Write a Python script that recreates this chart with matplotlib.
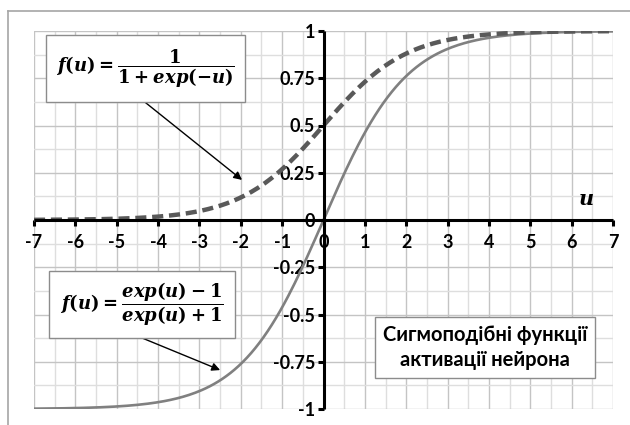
import matplotlib
matplotlib.use("Agg")
import matplotlib.pyplot as plt
import numpy as np
from matplotlib.patches import Rectangle
from matplotlib.lines import Line2D
from matplotlib.ticker import FuncFormatter

# argument grid and the two activation functions named in the boxes
u = np.arange(-7.0, 7.0001, 0.05)
logistic = 1.0 / (1.0 + np.exp(-u))
tanh_half = (np.exp(u) - 1.0) / (np.exp(u) + 1.0)

x_ticks = list(range(-7, 8))
y_ticks = [-1, -0.75, -0.5, -0.25, 0, 0.25, 0.5, 0.75, 1]

label_logistic = r"$f(u) = \dfrac{1}{1 + exp(-u)}$"
label_tanh = r"$f(u) = \dfrac{exp(u) - 1}{exp(u) + 1}$"
title_text = "Сигмоподібні функції\nактивації нейрона"

plt.rcParams["mathtext.fontset"] = "custom"
plt.rcParams["mathtext.rm"] = "DejaVu Serif:bold"
plt.rcParams["mathtext.bf"] = "DejaVu Serif:bold"
plt.rcParams["mathtext.it"] = "DejaVu Serif:italic:bold"

W, H = 630, 425
fig = plt.figure(figsize=(W / 100, H / 100), dpi=100)


def fx(px):
    return px / W


def fy(py):
    return 1 - py / H


# plot area in pixels
x0, x1, y0, y1 = 34, 613, 31, 409
ax = fig.add_axes([fx(x0), fy(y1), fx(x1) - fx(x0), fy(y0) - fy(y1)])
ax.set_xlim(-7, 7)
ax.set_ylim(-1, 1)

# chart area frame
fig.add_artist(Line2D([fx(8), fx(8)], [fy(10.5), 0], color="#a6a6a6", lw=1.2))
fig.add_artist(Line2D([fx(8), 1], [fy(10.5), fy(10.5)], color="#a6a6a6", lw=1.2))

# grid
for v in np.arange(-7, 7.01, 0.5):
    major = abs(v - round(v)) < 1e-9
    ax.axvline(v, color="#c4c4c4" if major else "#dedede", lw=1.0, zorder=0)
for v in np.arange(-1, 1.001, 0.125):
    major = abs(v / 0.25 - round(v / 0.25)) < 1e-9
    ax.axhline(v, color="#c4c4c4" if major else "#dedede", lw=1.0, zorder=0)

ax.plot(u, tanh_half, color="#808080", lw=1.9, zorder=3, solid_capstyle="butt")
ax.plot(u, logistic, color="#595959", lw=3.2, dashes=(2.5, 1.3), zorder=3)

for s in ["top", "right"]:
    ax.spines[s].set_visible(False)
ax.spines["left"].set_position(("data", 0))
ax.spines["bottom"].set_position(("data", 0))
for s in ["left", "bottom"]:
    ax.spines[s].set_linewidth(2.2)
    ax.spines[s].set_zorder(4)
    ax.spines[s].set_capstyle("butt")

ax.set_xticks(x_ticks)
ax.set_yticks(y_ticks)
fmt = FuncFormatter(lambda v, p: ("%g" % v))
ax.xaxis.set_major_formatter(fmt)
ax.yaxis.set_major_formatter(fmt)
ax.tick_params(axis="both", direction="out", length=4, width=2.2, color="black",
               labelsize=13, pad=2)
for lab in ax.get_xticklabels() + ax.get_yticklabels():
    lab.set_fontfamily("Lato")
    lab.set_fontweight("bold")
ax.tick_params(axis="x", pad=6)

ax.text(6.35, 0.06, r"$u$", fontsize=15, ha="center", va="bottom")


def box(px0, py0, px1, py1):
    fig.add_artist(Rectangle((fx(px0), fy(py1)), fx(px1) - fx(px0), fy(py0) - fy(py1),
                             transform=fig.transFigure, facecolor="white",
                             edgecolor="#8c8c8c", lw=1.0, zorder=5))


box(46, 35, 245, 102)
fig.text(fx(145.5), fy(68.5), label_logistic, fontsize=13, ha="center", va="center",
         zorder=6)
box(49, 271, 235, 338)
fig.text(fx(142), fy(304.5), label_tanh, fontsize=13, ha="center", va="center",
         zorder=6)
box(375, 317, 595, 378)
fig.text(fx(485), fy(347.5), title_text, fontsize=14.5, ha="center", va="center",
         family="Lato", fontweight="bold", linespacing=1.3, zorder=6)

arrow = dict(arrowstyle="-|>", color="black", lw=1.0, mutation_scale=12,
             shrinkA=0, shrinkB=0)
ax.annotate("", xy=(-1.97, 0.212), xytext=(-4.32, 0.624), arrowprops=arrow, zorder=6)
ax.annotate("", xy=(-2.5, -0.794), xytext=(-4.39, -0.624), arrowprops=arrow, zorder=6)

fig.savefig("out.png", dpi=100, facecolor="white")
